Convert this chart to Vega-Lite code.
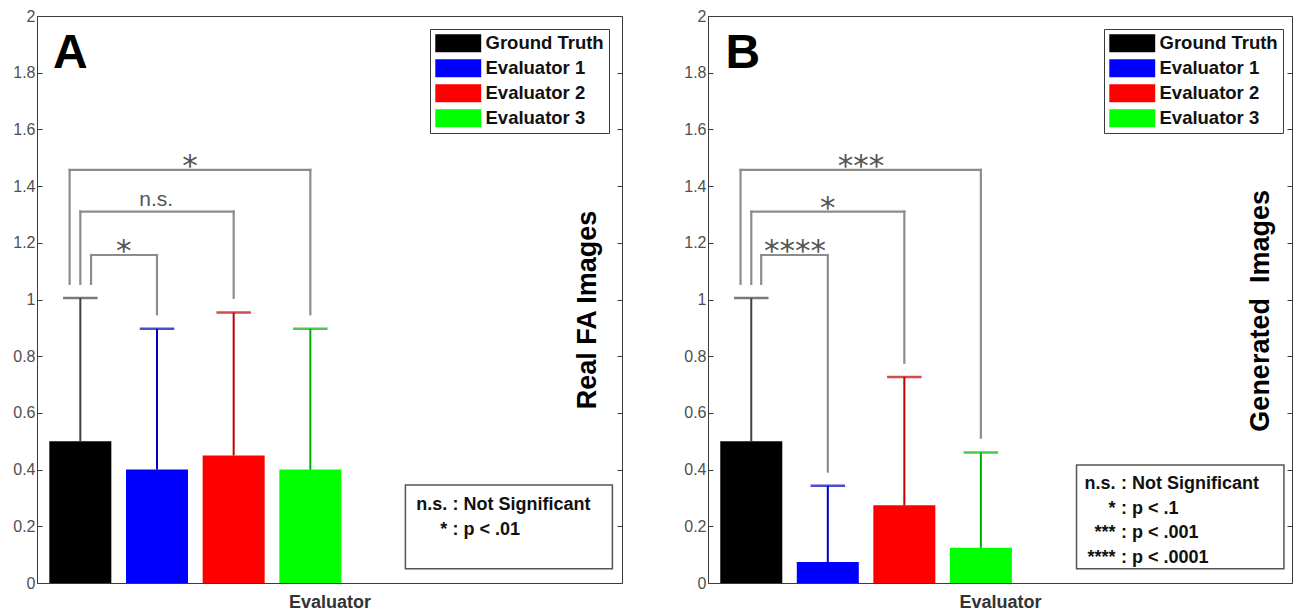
{
  "$schema": "https://vega.github.io/schema/vega-lite/v6.json",
  "background": "white",
  "padding": {"left": 12, "top": 7, "right": 0, "bottom": 0},
  "bounds": "flush",
  "spacing": 86,
  "config": {
    "font": "Liberation Sans",
    "view": {"stroke": "#3a3a3a", "strokeWidth": 1},
    "axis": {"grid": false, "domain": false, "labelFont": "Liberation Sans", "labelFontSize": 16, "labelColor": "#505050", "tickColor": "#3a3a3a", "titleFont": "Liberation Sans"}
  },
  "resolve": {"scale": {"fill": "independent", "stroke": "independent"}, "legend": {"fill": "independent"}},
  "hconcat": [
    {
      "width": 585, "height": 567,
      "resolve": {"scale": {"y": "independent"}},
      "layer": [
        {
          "layer": [
            {
              "data": {"values": [
                {"ev": "Ground Truth", "pos": 1, "mean": 0.5, "upper": 1.005},
                {"ev": "Evaluator 1", "pos": 2, "mean": 0.4, "upper": 0.897},
                {"ev": "Evaluator 2", "pos": 3, "mean": 0.45, "upper": 0.954},
                {"ev": "Evaluator 3", "pos": 4, "mean": 0.4, "upper": 0.897}
              ]},
              "layer": [
                {
                  "mark": {"type": "bar", "size": 62},
                  "encoding": {
                    "x": {"field": "pos", "type": "quantitative", "scale": {"domain": [0.5, 8], "nice": false, "zero": false},
                      "axis": {"title": "Evaluator", "labels": false, "ticks": false, "titleFontSize": 18, "titleFontWeight": "bold", "titleColor": "#333", "titlePadding": 10}},
                    "y": {"field": "mean", "type": "quantitative", "scale": {"domain": [0, 2], "nice": false},
                      "axis": {"title": null, "values": [0, 0.2, 0.4, 0.6, 0.8, 1, 1.2, 1.4, 1.6, 1.8, 2], "format": "~g", "tickSize": -5, "labelPadding": 7}},
                    "fill": {"field": "ev", "type": "nominal",
                      "scale": {"domain": ["Ground Truth", "Evaluator 1", "Evaluator 2", "Evaluator 3"], "range": ["#000000", "#0000ff", "#ff0000", "#00ff00"]},
                      "legend": {"orient": "none", "legendX": 393, "legendY": 13, "title": null, "labelExpr": "datum.label + '\u00a0'", "symbolType": "M-2.55,-1H2.55V1H-2.55Z", "symbolSize": 324, "symbolStrokeWidth": 0, "symbolOffset": 14, "labelOffset": 18, "labelFont": "Liberation Sans", "labelFontSize": 18.5, "labelFontWeight": "bold", "labelColor": "#111", "rowPadding": 6, "padding": 5, "strokeColor": "#3a3a3a", "fillColor": "white", "symbolOpacity": 1}}
                  }
                },
                {
                  "mark": {"type": "rule", "strokeWidth": 2},
                  "encoding": {
                    "x": {"field": "pos", "type": "quantitative"},
                    "y": {"field": "mean", "type": "quantitative"},
                    "y2": {"field": "upper"},
                    "stroke": {"field": "ev", "type": "nominal", "scale": {"domain": ["Ground Truth", "Evaluator 1", "Evaluator 2", "Evaluator 3"], "range": ["#404040", "#0000c0", "#c00000", "#00b000"]}, "legend": null}
                  }
                },
                {
                  "mark": {"type": "tick", "orient": "horizontal", "size": 32, "thickness": 0.01, "filled": false, "strokeWidth": 2.5},
                  "encoding": {
                    "x": {"field": "pos", "type": "quantitative"},
                    "y": {"field": "upper", "type": "quantitative"},
                    "stroke": {"field": "ev", "type": "nominal", "legend": null}
                  }
                }
              ]
            },
            {
              "data": {"values": [
                {"xl": 1.14, "xr": 2, "top": 1.157, "lb": 1.055, "rb": 0.948, "label": "*", "lx": 1.565},
                {"xl": 1.0, "xr": 3, "top": 1.31, "lb": 1.055, "rb": 1.006, "label": "n.s.", "lx": 1.99},
                {"xl": 0.86, "xr": 4, "top": 1.457, "lb": 1.055, "rb": 0.948, "label": "*", "lx": 2.43}
              ]},
              "layer": [
                {"mark": {"type": "rule", "color": "#8c8c8c", "strokeWidth": 2.2, "strokeCap": "square"},
                 "encoding": {"x": {"field": "xl", "type": "quantitative"}, "y": {"field": "lb", "type": "quantitative"}, "y2": {"field": "top"}}},
                {"mark": {"type": "rule", "color": "#8c8c8c", "strokeWidth": 2.2, "strokeCap": "square"},
                 "encoding": {"x": {"field": "xl", "type": "quantitative"}, "x2": {"field": "xr"}, "y": {"field": "top", "type": "quantitative"}}},
                {"mark": {"type": "rule", "color": "#8c8c8c", "strokeWidth": 2.2, "strokeCap": "square"},
                 "encoding": {"x": {"field": "xr", "type": "quantitative"}, "y": {"field": "rb", "type": "quantitative"}, "y2": {"field": "top"}}},
                {"transform": [{"filter": "datum.label === 'n.s.'"}],
                 "mark": {"type": "text", "font": "Liberation Sans", "fontSize": 21, "color": "#555", "baseline": "alphabetic", "dy": -6},
                 "encoding": {"x": {"field": "lx", "type": "quantitative"}, "y": {"field": "top", "type": "quantitative"}, "text": {"field": "label"}}},
                {"transform": [{"filter": "datum.label !== 'n.s.'"}],
                 "mark": {"type": "text", "font": "DejaVu Sans", "fontSize": 31, "color": "#555", "baseline": "alphabetic", "dy": 6},
                 "encoding": {"x": {"field": "lx", "type": "quantitative"}, "y": {"field": "top", "type": "quantitative"}, "text": {"field": "label"}}}
              ]
            },
            {
              "data": {"values": [{}]},
              "layer": [
                {"mark": {"type": "rect", "fill": "white", "stroke": "#555", "strokeWidth": 1.5},
                 "encoding": {"x": {"datum": 5.24, "type": "quantitative"}, "x2": {"datum": 7.94}, "y": {"datum": 0.05, "type": "quantitative"}, "y2": {"datum": 0.346}}},
                {"mark": {"type": "text", "align": "right", "baseline": "alphabetic", "fontSize": 18, "fontWeight": "bold", "lineHeight": 24.5, "color": "#111"},
                 "encoding": {"x": {"datum": 5.785, "type": "quantitative"}, "y": {"datum": 0.256, "type": "quantitative"}, "text": {"value": ["n.s.", "*"]}}},
                {"mark": {"type": "text", "align": "left", "baseline": "alphabetic", "fontSize": 18, "fontWeight": "bold", "lineHeight": 24.5, "color": "#111"},
                 "encoding": {"x": {"datum": 5.855, "type": "quantitative"}, "y": {"datum": 0.256, "type": "quantitative"}, "text": {"value": [": Not Significant", ": p < .01"]}}},
                {"mark": {"type": "text", "angle": 270, "align": "center", "baseline": "middle", "fontSize": 27, "fontWeight": "bold", "color": "#000"},
                 "encoding": {"x": {"datum": 7.62, "type": "quantitative"}, "y": {"datum": 0.963, "type": "quantitative"}, "text": {"value": "Real FA Images"}}},
                {"mark": {"type": "text", "align": "center", "baseline": "alphabetic", "fontSize": 48, "fontWeight": "bold", "color": "#000"},
                 "encoding": {"x": {"datum": 0.87, "type": "quantitative"}, "y": {"datum": 1.817, "type": "quantitative"}, "text": {"value": "A"}}}
              ]
            }
          ]
        },
        {
          "data": {"values": [{"v": 0}]},
          "mark": {"type": "rule", "opacity": 0},
          "encoding": {"y": {"field": "v", "type": "quantitative", "scale": {"domain": [0, 2], "nice": false},
            "axis": {"orient": "right", "labels": false, "title": null, "values": [0, 0.2, 0.4, 0.6, 0.8, 1, 1.2, 1.4, 1.6, 1.8, 2], "tickSize": -5}}}
        }
      ]
    },
    {
      "width": 584, "height": 567,
      "resolve": {"scale": {"y": "independent"}},
      "layer": [
        {
          "layer": [
            {
              "data": {"values": [
                {"ev": "Ground Truth", "pos": 1, "mean": 0.5, "upper": 1.005},
                {"ev": "Evaluator 1", "pos": 2, "mean": 0.074, "upper": 0.343},
                {"ev": "Evaluator 2", "pos": 3, "mean": 0.274, "upper": 0.727},
                {"ev": "Evaluator 3", "pos": 4, "mean": 0.124, "upper": 0.46}
              ]},
              "layer": [
                {
                  "mark": {"type": "bar", "size": 62},
                  "encoding": {
                    "x": {"field": "pos", "type": "quantitative", "scale": {"domain": [0.5, 8], "nice": false, "zero": false},
                      "axis": {"title": "Evaluator", "labels": false, "ticks": false, "titleFontSize": 18, "titleFontWeight": "bold", "titleColor": "#333", "titlePadding": 10}},
                    "y": {"field": "mean", "type": "quantitative", "scale": {"domain": [0, 2], "nice": false},
                      "axis": {"title": null, "values": [0, 0.2, 0.4, 0.6, 0.8, 1, 1.2, 1.4, 1.6, 1.8, 2], "format": "~g", "tickSize": -5, "labelPadding": 7}},
                    "fill": {"field": "ev", "type": "nominal",
                      "scale": {"domain": ["Ground Truth", "Evaluator 1", "Evaluator 2", "Evaluator 3"], "range": ["#000000", "#0000ff", "#ff0000", "#00ff00"]},
                      "legend": {"orient": "none", "legendX": 396, "legendY": 13, "title": null, "labelExpr": "datum.label + '\u00a0'", "symbolType": "M-2.55,-1H2.55V1H-2.55Z", "symbolSize": 324, "symbolStrokeWidth": 0, "symbolOffset": 14, "labelOffset": 18, "labelFont": "Liberation Sans", "labelFontSize": 18.5, "labelFontWeight": "bold", "labelColor": "#111", "rowPadding": 6, "padding": 5, "strokeColor": "#3a3a3a", "fillColor": "white", "symbolOpacity": 1}}
                  }
                },
                {
                  "mark": {"type": "rule", "strokeWidth": 2},
                  "encoding": {
                    "x": {"field": "pos", "type": "quantitative"},
                    "y": {"field": "mean", "type": "quantitative"},
                    "y2": {"field": "upper"},
                    "stroke": {"field": "ev", "type": "nominal", "scale": {"domain": ["Ground Truth", "Evaluator 1", "Evaluator 2", "Evaluator 3"], "range": ["#404040", "#0000c0", "#c00000", "#00b000"]}, "legend": null}
                  }
                },
                {
                  "mark": {"type": "tick", "orient": "horizontal", "size": 32, "thickness": 0.01, "filled": false, "strokeWidth": 2.5},
                  "encoding": {
                    "x": {"field": "pos", "type": "quantitative"},
                    "y": {"field": "upper", "type": "quantitative"},
                    "stroke": {"field": "ev", "type": "nominal", "legend": null}
                  }
                }
              ]
            },
            {
              "data": {"values": [
                {"xl": 1.13, "xr": 2, "top": 1.157, "lb": 1.055, "rb": 0.393, "label": "****", "lx": 1.57},
                {"xl": 1.0, "xr": 3, "top": 1.31, "lb": 1.055, "rb": 0.777, "label": "*", "lx": 2.0},
                {"xl": 0.86, "xr": 4, "top": 1.457, "lb": 1.055, "rb": 0.513, "label": "***", "lx": 2.435}
              ]},
              "layer": [
                {"mark": {"type": "rule", "color": "#8c8c8c", "strokeWidth": 2.2, "strokeCap": "square"},
                 "encoding": {"x": {"field": "xl", "type": "quantitative"}, "y": {"field": "lb", "type": "quantitative"}, "y2": {"field": "top"}}},
                {"mark": {"type": "rule", "color": "#8c8c8c", "strokeWidth": 2.2, "strokeCap": "square"},
                 "encoding": {"x": {"field": "xl", "type": "quantitative"}, "x2": {"field": "xr"}, "y": {"field": "top", "type": "quantitative"}}},
                {"mark": {"type": "rule", "color": "#8c8c8c", "strokeWidth": 2.2, "strokeCap": "square"},
                 "encoding": {"x": {"field": "xr", "type": "quantitative"}, "y": {"field": "rb", "type": "quantitative"}, "y2": {"field": "top"}}},
                {"mark": {"type": "text", "font": "DejaVu Sans", "fontSize": 31, "color": "#555", "baseline": "alphabetic", "dy": 6},
                 "encoding": {"x": {"field": "lx", "type": "quantitative"}, "y": {"field": "top", "type": "quantitative"}, "text": {"field": "label"}}}
              ]
            },
            {
              "data": {"values": [{}]},
              "layer": [
                {"mark": {"type": "rect", "fill": "white", "stroke": "#555", "strokeWidth": 1.5},
                 "encoding": {"x": {"datum": 5.25, "type": "quantitative"}, "x2": {"datum": 7.96}, "y": {"datum": 0.05, "type": "quantitative"}, "y2": {"datum": 0.416}}},
                {"mark": {"type": "text", "align": "right", "baseline": "alphabetic", "fontSize": 18, "fontWeight": "bold", "lineHeight": 24.5, "color": "#111"},
                 "encoding": {"x": {"datum": 5.76, "type": "quantitative"}, "y": {"datum": 0.33, "type": "quantitative"}, "text": {"value": ["n.s.", "*", "***", "****"]}}},
                {"mark": {"type": "text", "align": "left", "baseline": "alphabetic", "fontSize": 18, "fontWeight": "bold", "lineHeight": 24.5, "color": "#111"},
                 "encoding": {"x": {"datum": 5.83, "type": "quantitative"}, "y": {"datum": 0.33, "type": "quantitative"}, "text": {"value": [": Not Significant", ": p < .1", ": p < .001", ": p < .0001"]}}},
                {"mark": {"type": "text", "angle": 270, "align": "center", "baseline": "middle", "fontSize": 27, "fontWeight": "bold", "color": "#000"},
                 "encoding": {"x": {"datum": 7.665, "type": "quantitative"}, "y": {"datum": 0.96, "type": "quantitative"}, "text": {"value": "Generated\u00a0\u00a0Images"}}},
                {"mark": {"type": "text", "align": "center", "baseline": "alphabetic", "fontSize": 48, "fontWeight": "bold", "color": "#000"},
                 "encoding": {"x": {"datum": 0.89, "type": "quantitative"}, "y": {"datum": 1.817, "type": "quantitative"}, "text": {"value": "B"}}}
              ]
            }
          ]
        },
        {
          "data": {"values": [{"v": 0}]},
          "mark": {"type": "rule", "opacity": 0},
          "encoding": {"y": {"field": "v", "type": "quantitative", "scale": {"domain": [0, 2], "nice": false},
            "axis": {"orient": "right", "labels": false, "title": null, "values": [0, 0.2, 0.4, 0.6, 0.8, 1, 1.2, 1.4, 1.6, 1.8, 2], "tickSize": -5}}}
        }
      ]
    }
  ]
}
